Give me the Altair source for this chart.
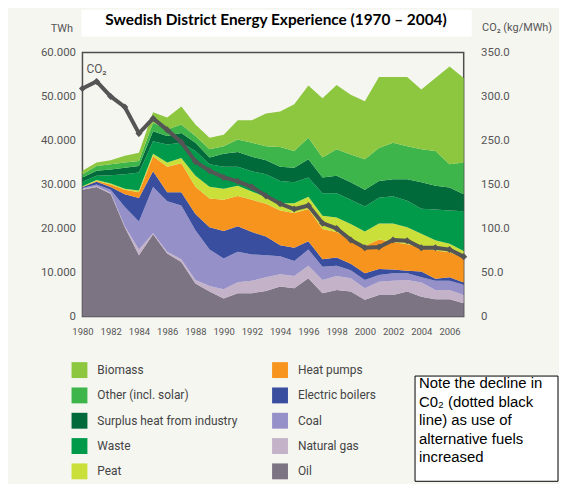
import altair as alt
import pandas as pd

years = list(range(1980, 2008))

# TWh per source (stacked from the bottom: Oil first)
oil = [28.8, 29.4, 27.9, 20.3, 13.9, 18.7, 14.3, 12.4, 7.5, 5.7, 4.1, 5.3, 5.3, 5.8,
       6.8, 6.4, 8.7, 5.3, 6.0, 5.7, 3.8, 4.9, 4.9, 5.7, 4.5, 3.9, 3.9, 3.0]
natural_gas = [0.2, 0.2, 0.2, 0.2, 1.3, 0.2, 0.4, 0.6, 0.8, 1.2, 2.1, 2.5, 2.8, 3.1,
               2.8, 2.8, 2.8, 3.0, 3.2, 3.0, 2.6, 3.0, 3.2, 2.6, 3.2, 2.1, 2.1, 1.9]
coal = [0.2, 0.4, 0.7, 4.4, 6.4, 10.5, 11.5, 12.2, 11.3, 8.3, 7.0, 6.9, 6.0, 5.0,
        4.1, 3.4, 3.7, 3.0, 2.3, 1.8, 1.9, 1.5, 1.7, 1.5, 1.2, 2.1, 2.1, 2.3]
electric_boilers = [0.2, 0.6, 0.6, 2.9, 5.3, 3.6, 2.0, 3.0, 3.7, 5.1, 6.2, 5.8, 5.1, 4.3,
                    2.5, 3.0, 1.9, 1.7, 1.9, 1.5, 1.5, 1.4, 0.9, 0.6, 1.3, 0.5, 0.8, 0.5]
heat_pumps = [0.0, 0.2, 0.6, 1.0, 1.3, 3.4, 5.8, 6.6, 6.2, 6.5, 7.1, 6.9, 7.3, 7.4,
              7.9, 7.9, 7.3, 6.9, 5.8, 5.3, 6.2, 6.7, 6.2, 6.0, 5.5, 6.4, 5.7, 5.7]
peat = [0.2, 0.2, 0.2, 0.2, 0.4, 0.6, 1.0, 1.2, 2.5, 2.7, 2.5, 2.3, 1.9, 1.5,
        1.6, 2.2, 2.8, 3.0, 3.3, 3.7, 3.3, 3.6, 4.2, 3.9, 3.1, 2.3, 1.9, 1.5]
waste = [1.0, 1.0, 1.9, 3.3, 4.1, 2.8, 4.1, 3.5, 5.6, 5.1, 5.0, 4.3, 4.6, 5.2,
         5.1, 4.8, 4.4, 5.1, 5.5, 5.5, 5.7, 5.9, 6.2, 6.0, 5.7, 7.0, 7.6, 9.0]
surplus_heat = [1.0, 1.1, 1.3, 1.5, 1.5, 2.3, 1.9, 2.2, 1.9, 1.5, 3.0, 3.4, 3.3, 3.2,
                3.2, 3.3, 4.1, 3.6, 4.0, 4.0, 3.8, 3.8, 3.9, 4.9, 6.0, 5.4, 5.2, 3.9]
other = [0.7, 1.1, 1.2, 1.2, 1.1, 1.9, 1.5, 1.9, 1.5, 1.9, 1.7, 2.8, 3.2, 3.2,
         4.5, 3.8, 4.9, 4.5, 6.0, 6.3, 6.9, 7.5, 8.3, 7.5, 7.5, 7.9, 5.3, 7.2]
biomass = [0.8, 0.8, 0.9, 1.5, 1.9, 2.4, 2.7, 4.1, 2.6, 2.6, 2.6, 4.4, 5.1, 7.4,
           8.1, 10.6, 11.9, 13.5, 14.6, 13.6, 13.2, 16.1, 14.9, 15.7, 13.6, 16.6, 22.2, 19.2]

# CO2 (kg/MWh), as read against the right-hand axis labels
co2 = [309, 317, 300, 288, 258, 275, 262, 246, 202, 181, 166, 157, 147, 137,
       128, 122, 126, 106, 100, 87, 78, 79, 87, 86, 78, 78, 76, 68]

stack_names = ["Oil", "Natural gas", "Coal", "Electric boilers", "Heat pumps", "Peat",
               "Waste", "Surplus heat from industry", "Other (incl. solar)", "Biomass"]
stack_values = [oil, natural_gas, coal, electric_boilers, heat_pumps, peat,
                waste, surplus_heat, other, biomass]

legend_order = ["Biomass", "Other (incl. solar)", "Surplus heat from industry", "Waste",
                "Peat", "Heat pumps", "Electric boilers", "Coal", "Natural gas", "Oil"]
legend_colors = ["#8dc63f", "#3db54a", "#006a3a", "#009a4a", "#cbdf3a",
                 "#f7941d", "#3a4ea0", "#9690c9", "#c4b2c9", "#7c7383"]

twh_ticks = [0, 10, 20, 30, 40, 50, 60]
co2_ticks = [0, 50, 100, 150, 250, 300, 350]
co2_domain = [0, 150, 250, 350]
year_ticks = list(range(1980, 2007, 2))

title_text = "Swedish District Energy Experience (1970 \u2013 2004)"
note_lines = ["Note the decline in", "C0\u2082 (dotted black", "line) as use of",
              "alternative fuels", "increased"]

W, H = 384, 266

rows = []
for idx, (name, vals) in enumerate(zip(stack_names, stack_values)):
    for yr, v in zip(years, vals):
        rows.append({"year": yr, "source": name, "twh": v, "stack": idx})
df = pd.DataFrame(rows)
co2_df = pd.DataFrame({"year": years, "co2": co2})
one = pd.DataFrame({"k": [0]})

label_font = "Roboto"
axis_color = "#555555"

x_axis = alt.Axis(values=year_ticks, format="d", ticks=False, domain=False,
                  grid=False, labelPadding=10, labelFontSize=9.5,
                  labelFont=label_font, labelColor=axis_color, title=None,
                  labelFlush=False, labelOverlap=False, labelBound=False,
                  labelSeparation=0)
x_scale = alt.Scale(domain=[1980, 2007], nice=False)


def x_enc():
    return alt.X("year:Q", scale=x_scale, axis=x_axis)


areas = alt.Chart(df).mark_area(interpolate="linear", opacity=1).encode(
    x=x_enc(),
    y=alt.Y("twh:Q", stack="zero",
            scale=alt.Scale(domain=[0, 60], nice=False, zero=True),
            axis=alt.Axis(values=twh_ticks, orient="left", ticks=False, domain=False,
                          grid=False, labelPadding=7, labelFontSize=11.5,
                          labelFont=label_font, labelColor=axis_color,
                          labelExpr="datum.value == 0 ? '0' : format(datum.value, '.3f')",
                          title="TWh", titleAngle=0, titleX=-10, titleY=-24,
                          titleAlign="right", titleBaseline="middle",
                          titleFont=label_font, titleFontSize=11,
                          titleFontWeight="normal", titleColor=axis_color)),
    color=alt.Color("source:N",
                    scale=alt.Scale(domain=legend_order, range=legend_colors),
                    legend=alt.Legend(orient="none", legendX=-11, legendY=312,
                                      columns=2, title=None, symbolType="square",
                                      symbolSize=256, symbolStrokeWidth=0,
                                      symbolOpacity=1, labelFont=label_font,
                                      labelFontSize=12, labelColor="#444444",
                                      labelOffset=10, rowPadding=9.5,
                                      columnPadding=34, gridAlign="each",
                                      labelLimit=300)),
    order=alt.Order("stack:Q", sort="ascending"),
)

co2_y = alt.Y("co2:Q",
              scale=alt.Scale(domain=co2_domain, range=[H, H / 2, H / 3, 0],
                              nice=False, zero=False),
              axis=alt.Axis(values=co2_ticks, orient="right", ticks=False, domain=False,
                            grid=False, labelPadding=17, labelFontSize=11.5,
                            labelFont=label_font, labelColor=axis_color,
                            labelExpr="datum.value == 0 ? '0' : format(datum.value, '.1f')",
                            title="CO\u2082 (kg/MWh)", titleAngle=0, titleX=18,
                            titleY=-25, titleAlign="left", titleBaseline="middle",
                            titleFont=label_font, titleFontSize=11,
                            titleFontWeight="normal", titleColor=axis_color))

co2_line = alt.Chart(co2_df).mark_line(color="#555555", strokeWidth=4).encode(
    x=x_enc(), y=co2_y)
co2_pts = alt.Chart(co2_df).mark_point(shape="diamond", filled=True, size=50,
                                       color="#555555", opacity=1).encode(
    x=x_enc(), y=co2_y)
co2_layer = alt.layer(co2_line, co2_pts)

co2_label = alt.Chart(one).mark_text(align="left", baseline="middle", font=label_font,
                                     fontSize=12, color="#555555").encode(
    x=alt.value(4), y=alt.value(17), text=alt.value("CO\u2082"))

title_box = alt.Chart(one).mark_rect(color="white").encode(
    x=alt.value(-1), x2=alt.value(392), y=alt.value(-43), y2=alt.value(-16))
title_mark = alt.Chart(one).mark_text(align="center", baseline="middle", font="Lato",
                                      fontSize=15.5, fontWeight="bold",
                                      color="black").encode(
    x=alt.value(195), y=alt.value(-33), text=alt.value(title_text))

note_box = alt.Chart(one).mark_rect(fill="white", stroke="black", strokeWidth=1).encode(
    x=alt.value(335), x2=alt.value(479), y=alt.value(326), y2=alt.value(432))
note_text = alt.Chart(one).mark_text(align="left", baseline="top",
                                     font="Liberation Sans", fontSize=15,
                                     lineHeight=18.7, color="black").encode(
    x=alt.value(339), y=alt.value(326), text=alt.value(note_lines))

chart = alt.layer(
    areas, co2_layer, title_box, title_mark, co2_label, note_box, note_text
).resolve_scale(y="independent", color="independent").properties(
    width=W, height=H,
    autosize=alt.AutoSizeParams(type="none"),
    padding={"left": 75, "top": 43, "right": 96, "bottom": 167},
    background="#f6f6f1",
).configure_view(stroke="#4d4d4d", strokeWidth=1.5, fill=None
).configure_axis(labelOverlap=False)

chart.save("out.html", embed_options={"renderer": "svg", "actions": False})
